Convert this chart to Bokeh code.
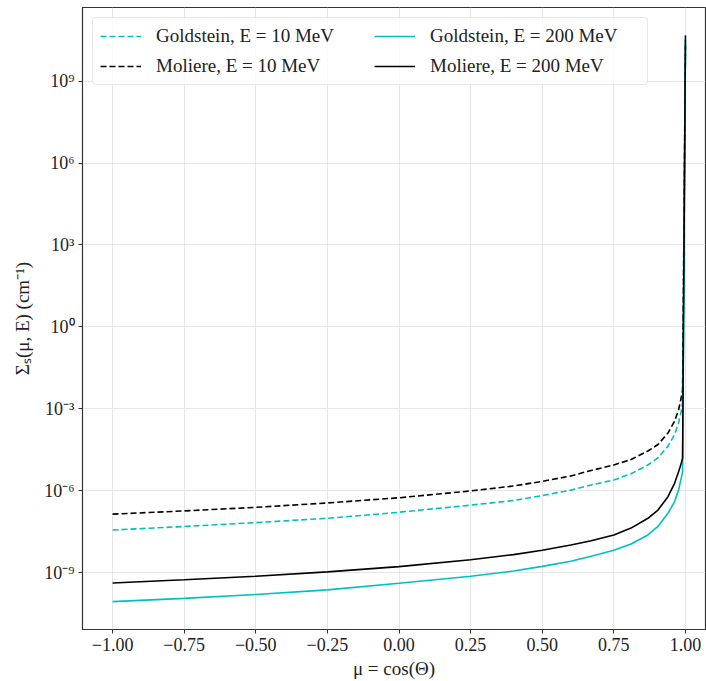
import numpy as np
from bokeh.plotting import figure
from bokeh.models import FixedTicker, CustomJSTickFormatter, Range1d, Legend, LegendItem
from bokeh.embed import file_html
from bokeh.resources import INLINE

# cosine of scattering angle
mu = [-1.0, -0.75, -0.5, -0.25, 0.0, 0.25, 0.4, 0.5, 0.6, 0.671, 0.75, 0.81, 0.869, 0.904,
      0.939, 0.962, 0.976, 0.985, 0.99, 1.0]

# log10 of Sigma_s(mu, E)
log_goldstein_10 = [-7.43, -7.30, -7.16, -7.00, -6.78, -6.52, -6.35, -6.17, -5.97, -5.78, -5.60, -5.37,
                    -5.05, -4.79, -4.36, -3.94, -3.51, -3.09, -2.75, 10.1]
log_moliere_10 = [-6.85, -6.73, -6.60, -6.44, -6.25, -6.00, -5.82, -5.65, -5.45, -5.25, -5.05, -4.85,
                  -4.54, -4.30, -3.88, -3.45, -3.03, -2.60, -2.30, 10.3]
log_goldstein_200 = [-10.05, -9.93, -9.79, -9.62, -9.38, -9.12, -8.93, -8.76, -8.57, -8.39, -8.17, -7.94,
                     -7.61, -7.30, -6.82, -6.39, -5.97, -5.54, -5.30, 10.5]
log_moliere_200 = [-9.37, -9.25, -9.12, -8.96, -8.77, -8.52, -8.33, -8.17, -7.98, -7.82, -7.61, -7.36,
                   -7.00, -6.70, -6.21, -5.72, -5.30, -5.00, -4.80, 10.67]

labels = ["Goldstein, E = 10 MeV", "Moliere, E = 10 MeV", "Goldstein, E = 200 MeV", "Moliere, E = 200 MeV"]
y_ticks = [1e-9, 1e-6, 1e-3, 1e0, 1e3, 1e6, 1e9]
x_ticks = [-1.0, -0.75, -0.5, -0.25, 0.0, 0.25, 0.5, 0.75, 1.0]

FONT = "Liberation Serif"
CYAN = "#00bfbf"
TXT = "#222222"

p = figure(width=706, height=681, output_backend="svg", toolbar_location=None,
           y_axis_type="log",
           x_range=Range1d(-1.105, 1.07), y_range=Range1d(10**-11.07, 10**11.69),
           min_border_left=82, min_border_top=7, min_border_right=1, min_border_bottom=48)

p.background_fill_color = "white"
p.border_fill_color = "white"
p.outline_line_color = "#333333"
p.outline_line_width = 1.2

def y(vals):
    return [10.0 ** v for v in vals]

r1 = p.line(mu, y(log_goldstein_10), line_color=CYAN, line_width=1.6, line_dash="6 3")
r2 = p.line(mu, y(log_moliere_10), line_color="black", line_width=1.6, line_dash="6 3")
r3 = p.line(mu, y(log_goldstein_200), line_color=CYAN, line_width=1.6)
r4 = p.line(mu, y(log_moliere_200), line_color="black", line_width=1.6)

legend = Legend(items=[LegendItem(label=labels[0], renderers=[r1]),
                       LegendItem(label=labels[1], renderers=[r2]),
                       LegendItem(label=labels[2], renderers=[r3]),
                       LegendItem(label=labels[3], renderers=[r4])],
                location="top_left", ncols=2)
legend.label_text_font = FONT
legend.label_text_font_size = "19px"
legend.label_text_color = TXT
legend.border_line_color = "#d0d0d0"
legend.border_line_width = 1
legend.border_radius = 4
legend.background_fill_alpha = 0.8
legend.glyph_width = 41
legend.label_standoff = 15
legend.label_width = 210
legend.spacing = 8
legend.padding = 7
legend.margin = 10
legend.label_height = 20
legend.glyph_height = 20
p.add_layout(legend)

p.xaxis.ticker = FixedTicker(ticks=x_ticks)
p.yaxis.ticker = FixedTicker(ticks=y_ticks, minor_ticks=[])
p.xaxis.formatter = CustomJSTickFormatter(code="""
    const s = tick.toFixed(2);
    return tick < 0 ? '\u2212' + s.slice(1) : s;
""")
p.yaxis.formatter = CustomJSTickFormatter(code="""
    const e = Math.round(Math.log10(tick));
    const sup = {'0':'\u2070','1':'\u00b9','2':'\u00b2','3':'\u00b3','4':'\u2074','5':'\u2075','6':'\u2076','7':'\u2077','8':'\u2078','9':'\u2079','-':'\u207b'};
    return '10' + String(e).split('').map(c => sup[c]).join('');
""")

for ax in (p.xaxis, p.yaxis):
    ax.major_label_text_font = FONT
    ax.major_label_text_font_size = "18px"
    ax.major_label_text_color = TXT
    ax.axis_label_text_font = FONT
    ax.axis_label_text_font_size = "19px"
    ax.axis_label_text_font_style = "normal"
    ax.axis_label_text_color = TXT
    ax.axis_line_color = "#333333"
    ax.major_tick_line_color = "#333333"
    ax.major_tick_out = 4
    ax.major_tick_in = 0
    ax.minor_tick_out = 0
    ax.minor_tick_in = 0
    ax.major_label_standoff = 4

p.xaxis.axis_label = "μ = cos(Θ)"
p.yaxis.axis_label = "Σₛ(μ, E) (cm⁻¹)"
p.xaxis.axis_label_standoff = 4
p.yaxis.axis_label_standoff = 8

p.xgrid.ticker = FixedTicker(ticks=x_ticks)
p.ygrid.ticker = FixedTicker(ticks=y_ticks)
p.grid.grid_line_color = "#e6e6e6"
p.grid.grid_line_width = 1

open("out.html", "w").write(file_html(p, INLINE))
